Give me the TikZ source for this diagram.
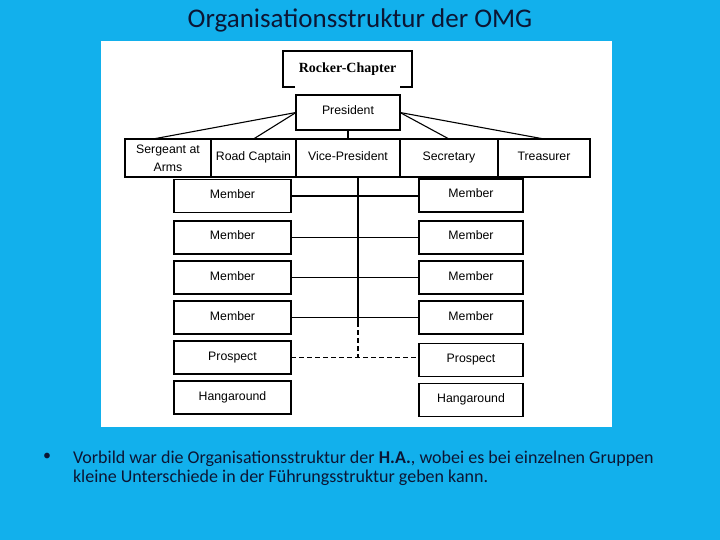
\documentclass[tikz,border=0pt]{standalone}
\usepackage{fontspec}
\setmainfont{Carlito}
\newfontfamily\diafont{Liberation Sans}
\newfontfamily\chapfont{Liberation Serif}
\usepackage{tikz}
\usetikzlibrary{positioning}
\definecolor{folie}{RGB}{18,176,236}
\definecolor{schrift}{RGB}{12,22,52}

\begin{document}
\begin{tikzpicture}[x=1pt, y=-1pt,
                    every node/.style = {text=black, inner sep=0pt, outer sep=0pt},
                    box/.style = {draw, line width=1.3pt, font=\diafont\fontsize{12.3}{19}\selectfont},
                    einzeilig/.style = {text height=9pt, text depth=4pt},
                    amt/.style = {box, einzeilig, minimum height=38pt},
                    mitglied/.style = {box, einzeilig, minimum height=33pt},
                    folientext/.style = {text=schrift, anchor=base west, font=\fontsize{18}{19}\selectfont},
                    line width=1.1pt]
                \useasboundingbox (0,0) rectangle (720,540);
                \fill[folie] (0,0) rectangle (720,540);
                \fill[white] (101,41) rectangle (612,427);
                % title and bullet text
                \node (titel) [text=schrift, font=\fontsize{27}{30}\selectfont] at (360,20) {Organisationsstruktur der OMG};
                \node (punkt) [text=schrift, font=\fontsize{16}{19}\selectfont] at (47,457) {\textbullet};
                \node (zeile1) [folientext] at (73,463)
                    {Vorbild war die Organisationsstruktur der \textbf{H.A.}, wobei es bei einzelnen Gruppen};
                \node (zeile2) [folientext] at (73,482)
                    {kleine Unterschiede in der Führungsstruktur geben kann.};
                % chapter and president
                \node (chap) [minimum width=129pt, minimum height=36pt, font=\chapfont\bfseries\fontsize{14}{16}\selectfont] at (347.5,69) {Rocker-Chapter};
                \draw[line width=1.3pt] ([xshift=12pt]chap.south west) -- (chap.south west) -- (chap.north west)
                      -- (chap.north east) -- (chap.south east) -- ([xshift=-12pt]chap.south east);
                \node (pres) [box, einzeilig, minimum width=104pt, minimum height=35pt] at (348,112.5) {President};
                % officers
                \node (saa) [box, minimum height=38pt, minimum width=86pt, align=center] at (168,158) {\raisebox{-3pt}{Sergeant at}\\[-1pt]\raisebox{-3pt}{Arms}};
                \node (rc)  [amt, minimum width=85pt, right = 0pt of saa] {Road Captain};
                \node (vp)  [amt, minimum width=104pt, right = 0pt of rc] {Vice-President};
                \node (sec) [amt, minimum width=98pt, right = 0pt of vp] {Secretary};
                \node (tre) [amt, minimum width=92pt, right = 0pt of sec] {Treasurer};
                % members
                \node (lm1) [mitglied, minimum width=117pt] at (232.5,196) {Member};
                \node (lm2) [mitglied, minimum width=117pt, below = 8.5pt of lm1] {Member};
                \node (lm3) [mitglied, minimum width=117pt, below = 7pt of lm2] {Member};
                \node (lm4) [mitglied, minimum width=117pt, below = 7pt of lm3] {Member};
                \node (lp)  [mitglied, minimum width=117pt, below = 7pt of lm4] {Prospect};
                \node (lh)  [mitglied, minimum width=117pt, below = 7pt of lp]  {Hangaround};
                \node (rm1) [mitglied, minimum width=104pt] at (471,195.5) {Member};
                \node (rm2) [mitglied, minimum width=104pt, below = 9pt of rm1] {Member};
                \node (rm3) [mitglied, minimum width=104pt, below = 7pt of rm2] {Member};
                \node (rm4) [mitglied, minimum width=104pt, below = 7pt of rm3] {Member};
                \node (rp)  [mitglied, minimum width=104pt, below = 9.5pt of rm4] {Prospect};
                \node (rh)  [mitglied, minimum width=104pt, below = 7pt of rp]  {Hangaround};
                % connectors
                \draw (pres.west) -- ([xshift=-15pt]saa.north);
                \draw (pres.west) -- (rc.north);
                \draw (pres.east) -- (sec.north);
                \draw (pres.east) -- (tre.north);
                \draw (pres.south) -- (vp.north);
                \coordinate (stamm) at (358,322);
                \draw (vp.south -| stamm) -- (stamm);
                \draw[dash pattern=on 5pt off 3pt] (stamm) -- (stamm |- lp.east);
                \foreach \i in {1,...,4}
                    \draw (lm\i.east) -- (lm\i.east -| rm\i.west);
                \draw[dash pattern=on 5pt off 3pt] (lp.east) -- (lp.east -| rp.west);
            \end{tikzpicture}
\end{document}
